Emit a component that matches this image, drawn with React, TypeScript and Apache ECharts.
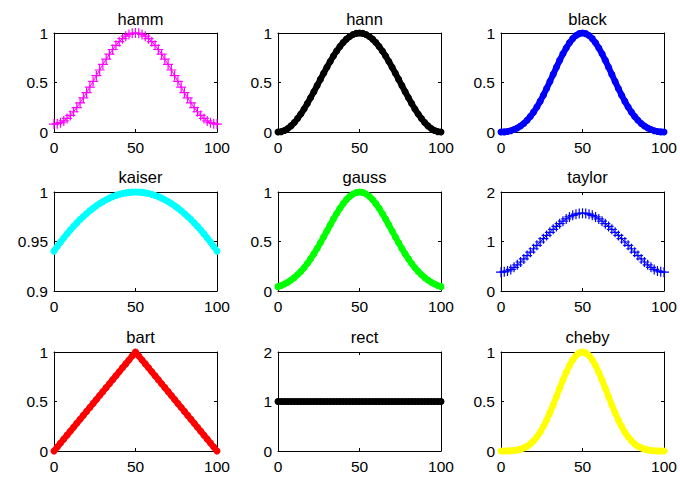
import React, { useEffect, useRef } from "react";
import * as echarts from "echarts";

const xs = [0,2,4,6,8,10,12,14,16,18,20,22,24,26,28,30,32,34,36,38,40,42,44,46,48,50,52,54,56,58,60,62,64,66,68,70,72,74,76,78,80,82,84,86,88,90,92,94,96,98,100];

const hamm = [0.08,0.0836,0.0945,0.1123,0.1369,0.1679,0.2047,0.2468,0.2935,0.3441,0.3979,0.4538,0.5111,0.5689,0.6262,0.6821,0.7359,0.7865,0.8332,0.8753,0.9121,0.9431,0.9677,0.9856,0.9964,1,0.9964,0.9856,0.9677,0.9431,0.9121,0.8753,0.8332,0.7865,0.7359,0.6821,0.6262,0.5689,0.5111,0.4538,0.3979,0.3441,0.2935,0.2468,0.2047,0.1679,0.1369,0.1123,0.0945,0.0836,0.08];
const hann = [0,0.0039,0.0157,0.0351,0.0618,0.0955,0.1355,0.1813,0.2321,0.2871,0.3455,0.4063,0.4686,0.5314,0.5937,0.6545,0.7129,0.7679,0.8187,0.8645,0.9045,0.9382,0.9649,0.9843,0.9961,1,0.9961,0.9843,0.9649,0.9382,0.9045,0.8645,0.8187,0.7679,0.7129,0.6545,0.5937,0.5314,0.4686,0.4063,0.3455,0.2871,0.2321,0.1813,0.1355,0.0955,0.0618,0.0351,0.0157,0.0039,0];
const black = [0,0.0014,0.0058,0.0134,0.0247,0.0402,0.0605,0.0863,0.118,0.1561,0.2008,0.2519,0.3092,0.372,0.4393,0.5098,0.5819,0.6539,0.7237,0.7895,0.8492,0.901,0.9432,0.9744,0.9935,1,0.9935,0.9744,0.9432,0.901,0.8492,0.7895,0.7237,0.6539,0.5819,0.5098,0.4393,0.372,0.3092,0.2519,0.2008,0.1561,0.118,0.0863,0.0605,0.0402,0.0247,0.0134,0.0058,0.0014,0];
const kaiser = [0.9403,0.9449,0.9494,0.9536,0.9577,0.9616,0.9653,0.9688,0.9722,0.9753,0.9783,0.9811,0.9837,0.9861,0.9883,0.9903,0.9922,0.9938,0.9953,0.9965,0.9976,0.9985,0.9991,0.9996,0.9999,1,0.9999,0.9996,0.9991,0.9985,0.9976,0.9965,0.9953,0.9938,0.9922,0.9903,0.9883,0.9861,0.9837,0.9811,0.9783,0.9753,0.9722,0.9688,0.9653,0.9616,0.9577,0.9536,0.9494,0.9449,0.9403];
const gauss = [0.0439,0.0561,0.071,0.0889,0.1103,0.1353,0.1645,0.1979,0.2357,0.278,0.3247,0.3753,0.4296,0.4868,0.5461,0.6065,0.667,0.7261,0.7827,0.8353,0.8825,0.9231,0.956,0.9802,0.995,1,0.995,0.9802,0.956,0.9231,0.8825,0.8353,0.7827,0.7261,0.667,0.6065,0.5461,0.4868,0.4296,0.3753,0.3247,0.278,0.2357,0.1979,0.1645,0.1353,0.1103,0.0889,0.071,0.0561,0.0439];
const taylor = [0.38,0.3865,0.4055,0.4364,0.4779,0.5283,0.5859,0.6488,0.7153,0.7839,0.8531,0.9222,0.9904,1.0572,1.1224,1.1857,1.2468,1.3051,1.3602,1.4111,1.4569,1.4964,1.5286,1.5524,1.5671,1.572,1.5671,1.5524,1.5286,1.4964,1.4569,1.4111,1.3602,1.3051,1.2468,1.1857,1.1224,1.0572,0.9904,0.9222,0.8531,0.7839,0.7153,0.6488,0.5859,0.5283,0.4779,0.4364,0.4055,0.3865,0.38];
const bart = [0,0.04,0.08,0.12,0.16,0.2,0.24,0.28,0.32,0.36,0.4,0.44,0.48,0.52,0.56,0.6,0.64,0.68,0.72,0.76,0.8,0.84,0.88,0.92,0.96,1,0.96,0.92,0.88,0.84,0.8,0.76,0.72,0.68,0.64,0.6,0.56,0.52,0.48,0.44,0.4,0.36,0.32,0.28,0.24,0.2,0.16,0.12,0.08,0.04,0];
const rect = [1,1,1,1,1,1,1,1,1,1,1,1,1,1,1,1,1,1,1,1,1,1,1,1,1,1,1,1,1,1,1,1,1,1,1,1,1,1,1,1,1,1,1,1,1,1,1,1,1,1,1];
const cheby = [0.0001,0.0003,0.0011,0.0028,0.0058,0.011,0.0191,0.0313,0.0486,0.0721,0.103,0.1422,0.1901,0.2471,0.3126,0.3859,0.4653,0.5487,0.6333,0.7161,0.7938,0.8631,0.9207,0.964,0.9909,1,0.9909,0.964,0.9207,0.8631,0.7938,0.7161,0.6333,0.5487,0.4653,0.3859,0.3126,0.2471,0.1901,0.1422,0.103,0.0721,0.0486,0.0313,0.0191,0.011,0.0058,0.0028,0.0011,0.0003,0.0001];

const titles = ["hamm", "hann", "black", "kaiser", "gauss", "taylor", "bart", "rect", "cheby"];
const seriesValues = [hamm, hann, black, kaiser, gauss, taylor, bart, rect, cheby];
const yMins = [0, 0, 0, 0.9, 0, 0, 0, 0, 0];
const yMaxs = [1, 1, 1, 1, 1, 2, 1, 2, 1];
const yIntervals = [0.5, 0.5, 0.5, 0.05, 0.5, 1, 0.5, 1, 0.5];
const xMin = 0;
const xMax = 100;
const xInterval = 50;

const colors = ["#ff00ff", "#000000", "#0000ff", "#00ffff", "#00ff00", "#0000ff", "#ff0000", "#000000", "#ffff00"];
const markerKinds = ["plus", "dot", "dot", "dot", "dot", "plus", "dot", "dot", "dot"];

const colLefts = [54, 278, 501];
const rowTops = [33, 192, 352];
const gridW = 163;
const gridH = 99;
const titleTops = [5, 163, 323];

const FONT = "'Liberation Sans', Arial, Helvetica, sans-serif";
const PLUS = "path://M0,4.4L10,4.4L10,5.6L0,5.6Z M4.4,0L5.6,0L5.6,10L4.4,10Z";

export default function App() {
  const ref = useRef<HTMLDivElement>(null);
  useEffect(() => {
    if (!ref.current) return;
    const chart = echarts.init(ref.current, null, { renderer: "svg" });
    const grid: any[] = [];
    const xAxis: any[] = [];
    const yAxis: any[] = [];
    const series: any[] = [];
    const title: any[] = [];
    const axisLine = { show: true, onZero: false, lineStyle: { color: "#000", width: 1 } };
    const tick = { show: true, inside: true, length: 3, lineStyle: { color: "#000" } };
    const label = { color: "#000", fontSize: 15.5, fontFamily: FONT };
    for (let i = 0; i < 9; i++) {
      const r = Math.floor(i / 3);
      const c = i % 3;
      grid.push({ left: colLefts[c], top: rowTops[r], width: gridW, height: gridH, containLabel: false });
      title.push({
        text: titles[i],
        left: colLefts[c] + gridW / 2,
        top: titleTops[r],
        textAlign: "center",
        textStyle: { fontSize: 16.5, fontWeight: "normal", color: "#000", fontFamily: FONT },
      });
      xAxis.push({
        type: "value", gridIndex: i, position: "bottom", min: xMin, max: xMax, interval: xInterval,
        axisLine, axisTick: tick, splitLine: { show: false },
        axisLabel: { ...label, margin: 7 },
      });
      xAxis.push({
        type: "value", gridIndex: i, position: "top", min: xMin, max: xMax, interval: xInterval,
        axisLine, axisTick: tick, splitLine: { show: false }, axisLabel: { show: false },
      });
      yAxis.push({
        type: "value", gridIndex: i, position: "left", min: yMins[i], max: yMaxs[i], interval: yIntervals[i],
        axisLine, axisTick: tick, splitLine: { show: false },
        axisLabel: { ...label, margin: 6 },
      });
      yAxis.push({
        type: "value", gridIndex: i, position: "right", min: yMins[i], max: yMaxs[i], interval: yIntervals[i],
        axisLine, axisTick: tick, splitLine: { show: false }, axisLabel: { show: false },
      });
      const vals = seriesValues[i];
      const isPlus = markerKinds[i] === "plus";
      series.push({
        type: "line",
        xAxisIndex: i * 2,
        yAxisIndex: i * 2,
        data: xs.map((x, k) => [x, vals[k]]),
        symbol: isPlus ? PLUS : "circle",
        symbolSize: isPlus ? 10 : 7,
        showSymbol: true,
        clip: false,
        lineStyle: { color: colors[i], width: isPlus ? 1 : 6, cap: "round", join: "round" },
        itemStyle: { color: colors[i], borderWidth: 0 },
        emphasis: { disabled: true },
        z: 3,
      });
    }
    chart.setOption({
      animation: false,
      backgroundColor: "#ffffff",
      title,
      grid,
      xAxis,
      yAxis,
      series,
    });
    return () => chart.dispose();
  }, []);
  return (
    <div
      ref={ref}
      style={{ position: "fixed", left: 0, top: 0, width: 680, height: 478, background: "#fff" }}
    />
  );
}
